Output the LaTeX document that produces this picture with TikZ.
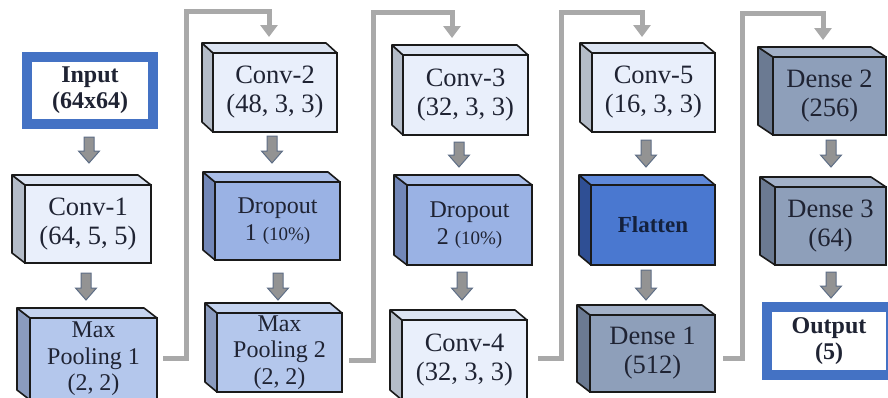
\documentclass[tikz,border=0pt]{standalone}
\usepackage{fontspec}
\setmainfont{Liberation Serif}
\usetikzlibrary{arrows.meta,calc}
\definecolor{txt}{HTML}{1F2333}
\definecolor{navytxt}{HTML}{14213D}
\definecolor{ioblue}{HTML}{4472C4}
\definecolor{convfront}{HTML}{E9EFFB}
\definecolor{convside}{HTML}{B4BCC8}
\definecolor{convtop}{HTML}{DCE4F2}
\definecolor{poolfront}{HTML}{B4C7EC}
\definecolor{poolside}{HTML}{8A9BBF}
\definecolor{pooltop}{HTML}{C5D4F0}
\definecolor{dropfront}{HTML}{9AB2E4}
\definecolor{dropside}{HTML}{7287B8}
\definecolor{droptop}{HTML}{AABEE8}
\definecolor{flatfront}{HTML}{4A78D0}
\definecolor{flatside}{HTML}{2F4F94}
\definecolor{flattop}{HTML}{5F89DA}
\definecolor{densefront}{HTML}{8E9FBA}
\definecolor{denseside}{HTML}{6B7A92}
\definecolor{densetop}{HTML}{A3B1C8}
\definecolor{arrowfill}{HTML}{939393}
\definecolor{arrowedge}{HTML}{5E6E86}
\definecolor{elbowgray}{HTML}{A9A9A9}
\definecolor{edgecol}{HTML}{1A1A1A}
% #1 name, #2 x1, #3 y1, #4 x2, #5 y2, #6 colour prefix, #7 depth dx, #8 text
\newcommand{\blk}[8]{%
  \node[face, #6txt, fill=#6front, minimum width={#4-#2}, minimum height={#5-#3}] (#1) at ({(#2+#4)/2},{(#3+#5)/2}) {#8};
  \filldraw[faceedge, fill=#6side] (#1.north west) -- ++(-#7,-10) -- ($(#1.south west)+(-#7,-10)$) -- (#1.south west) -- cycle;
  \filldraw[faceedge, fill=#6top] (#1.north west) -- ++(-#7,-10) -- ($(#1.north east)+(-#7,-10)$) -- (#1.north east) -- cycle;
}
\newcommand{\pct}{\fontsize{19}{26}\selectfont}
\tikzset{
  face/.style={draw=edgecol, line width=1.6pt, outer sep=0pt, inner sep=0pt, align=center,
    text=txt},
  convtxt/.style={font=\fontsize{26.5}{29}\selectfont},
  densetxt/.style={font=\fontsize{26.5}{29}\selectfont},
  pooltxt/.style={font=\fontsize{24}{26.5}\selectfont},
  droptxt/.style={font=\fontsize{24}{27}\selectfont},
  flattxt/.style={font=\bfseries\fontsize{23}{26}\selectfont, text=navytxt},
  faceedge/.style={draw=edgecol, line width=1.6pt, line join=round},
  iobox/.style={draw=ioblue, line width=10pt, fill=white, outer sep=0pt, inner sep=0pt,
    align=center, text=txt, font=\bfseries\fontsize{24}{26}\selectfont},
  blockarrow/.style={draw=arrowedge, fill=arrowfill, line width=1pt, line join=miter,
    to path={let \p1=(\tikztostart), \p2=(\tikztotarget) in
      (\x1-5pt,\y1) -- (\x1+5pt,\y1) -- (\x1+5pt,\y2+12pt) -- (\x1+10.5pt,\y2+12pt)
      -- (\x1,\y2) -- (\x1-10.5pt,\y2+12pt) -- (\x1-5pt,\y2+12pt) -- cycle}},
  elbow/.style={draw=elbowgray, line width=5pt, -{Triangle[width=17pt,length=12pt]}}
}
\begin{document}
\begin{tikzpicture}[x=1pt,y=-1pt]
\useasboundingbox (0,0) rectangle (888,397);
\fill[white] (0,0) rectangle (888,397);
\clip (0,0) rectangle (888,397);

% column 1
\node[iobox, minimum width=126, minimum height=67] (in) at (90,90.5) {Input\\(64x64)};
\blk{c1}{25}{185}{151}{263}{conv}{13}{Conv-1\\(64, 5, 5)}
\blk{mp1}{30}{318}{157}{400}{pool}{13}{Max\\Pooling 1\\(2, 2)}

% column 2
\blk{c2}{213}{53}{337}{132}{conv}{11}{Conv-2\\(48, 3, 3)}
\blk{d1}{215}{182}{340}{260}{drop}{12}{Dropout\\1 {\pct(10\%)}}
\blk{mp2}{217}{313}{342}{392}{pool}{12}{Max\\Pooling 2\\(2, 2)}

% column 3
\blk{c3}{403}{55}{528}{135}{conv}{11}{Conv-3\\(32, 3, 3)}
\blk{d2}{407}{185}{532}{265}{drop}{13}{Dropout\\2 {\pct(10\%)}}
\blk{c4}{402}{320}{527}{400}{conv}{12}{Conv-4\\(32, 3, 3)}

% column 4
\blk{c5}{592}{53}{715}{132}{conv}{12}{Conv-5\\(16, 3, 3)}
\blk{fl}{591}{185}{715}{265}{flat}{12}{Flatten}
\blk{dn1}{590}{315}{715}{392}{dense}{13}{Dense 1\\(512)}

% column 5
\blk{dn2}{773}{57}{886}{135}{dense}{15}{Dense 2\\(256)}
\blk{dn3}{775}{187}{886}{265}{dense}{15}{Dense 3\\(64)}
\node[iobox, minimum width=124, minimum height=68] (out) at (829,341) {Output\\(5)};

% block arrows
\draw[blockarrow] ([xshift=-1pt,yshift=-13pt]in.south) to ([yshift=22pt]c1.north);
\draw[blockarrow] ([xshift=-2pt,yshift=-10pt]c1.south) to ([yshift=18pt]mp1.north);
\draw[blockarrow] ([xshift=-3pt,yshift=-4pt]c2.south) to ([yshift=19pt]d1.north);
\draw[blockarrow] ([xshift=0.5pt,yshift=-13pt]d1.south) to ([yshift=13pt]mp2.north);
\draw[blockarrow] ([xshift=-6.5pt,yshift=-7pt]c3.south) to ([yshift=18pt]d2.north);
\draw[blockarrow] ([xshift=-7.5pt,yshift=-7pt]d2.south) to ([yshift=20pt]c4.north);
\draw[blockarrow] ([xshift=-7.5pt,yshift=-8pt]c5.south) to ([yshift=18pt]fl.north);
\draw[blockarrow] ([xshift=-7pt,yshift=-5pt]fl.south) to ([yshift=15pt]dn1.north);
\draw[blockarrow] ([xshift=1.5pt,yshift=-5pt]dn2.south) to ([yshift=20pt]dn3.north);
\draw[blockarrow] ([xshift=0.5pt,yshift=-7pt]dn3.south) to ([yshift=9pt]out.north);

% elbow connectors between columns
\draw[elbow] ([xshift=6pt,yshift=1pt]mp1.east) -| (186,11) -| ([xshift=-6pt,yshift=16pt]c2.north);
\draw[elbow] ([xshift=7pt,yshift=-7.5pt]mp2.east) -| (373,12) -| ([xshift=-13.5pt,yshift=17pt]c3.north);
\draw[elbow] ([xshift=11pt,yshift=2pt]c4.east) -| (561,12) -| ([xshift=-11.5pt,yshift=16pt]c5.north);
\draw[elbow] ([xshift=8pt,yshift=-4.5pt]dn1.east) -| (742,13) -| ([xshift=-6.5pt,yshift=17pt]dn2.north);
\end{tikzpicture}
\end{document}
